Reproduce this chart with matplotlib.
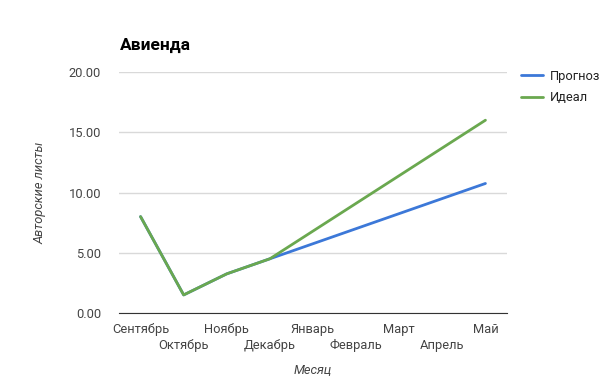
import matplotlib.pyplot as plt

plt.rcParams['font.family'] = ['Roboto', 'DejaVu Sans']

months = ["Сентябрь", "Октябрь", "Ноябрь", "Декабрь", "Январь",
          "Февраль", "Март", "Апрель", "Май"]
forecast = [8.0, 1.5, 3.25, 4.5, 5.75, 7.0, 8.25, 9.5, 10.75]
ideal = [8.0, 1.5, 3.25, 4.5, 6.8, 9.1, 11.4, 13.7, 16.0]
y_ticks = [0, 5, 10, 15, 20]

fig = plt.figure(figsize=(6.05, 3.85), dpi=100)
ax = fig.add_axes([119 / 605, 1 - 313 / 385, 388 / 605, 241 / 385])

x = list(range(len(months)))
ax.plot(x, forecast, color="#3c78d8", lw=2, label="Прогноз", solid_capstyle="round")
ax.plot(x, ideal, color="#6aa84f", lw=2, label="Идеал", solid_capstyle="round")

ax.set_xlim(-0.5, len(months) - 0.5)
ax.set_ylim(0, 20)
ax.set_yticks(y_ticks)
ax.set_yticklabels([f"{v:.2f}" for v in y_ticks])

# staggered month labels: even ones on the first row, odd ones below
ax.set_xticks(x[::2])
ax.set_xticklabels(months[::2])
ax.set_xticks(x[1::2], minor=True)
ax.set_xticklabels(months[1::2], minor=True)

ax.grid(axis="y", color="#d9d9d9", lw=1)
ax.set_axisbelow(True)
for s in ["top", "right", "left"]:
    ax.spines[s].set_visible(False)
ax.spines["bottom"].set_color("#333333")
ax.tick_params(which="both", length=0, colors="#444444", labelsize=9.3)
ax.tick_params(axis="y", pad=13)
ax.tick_params(axis="x", which="major", pad=7)
ax.tick_params(axis="x", which="minor", pad=19)

fig.text(313 / 605, 1 - 370 / 385, "Месяц", style="italic", color="#444444",
         fontsize=9.3, ha="center", va="center")
ax.set_ylabel("Авторские листы", style="italic", color="#444444", fontsize=9.3, labelpad=16)

fig.text(120 / 605, 1 - 45 / 385, "Авиенда", fontsize=12.5, fontweight="bold",
         va="center", ha="left")

fig.legend(loc="upper left", bbox_to_anchor=(521 / 605, 1 - 70 / 385), frameon=False,
           fontsize=9.3, handlelength=1.7, labelspacing=0.65, handletextpad=0.5,
           borderpad=0, borderaxespad=0, labelcolor="#222222")

fig.savefig("out.png", dpi=100)
